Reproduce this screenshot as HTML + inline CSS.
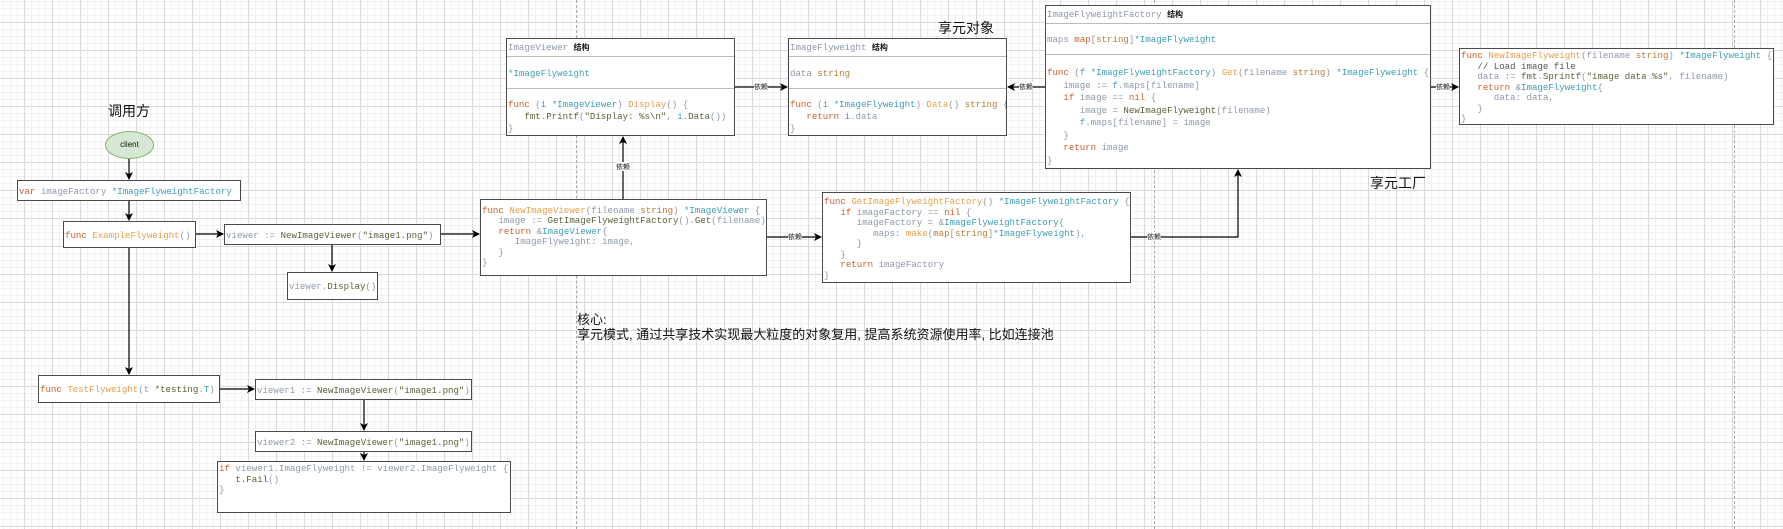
<!DOCTYPE html>
<html><head><meta charset="utf-8"><style>
html,body{margin:0;padding:0}
body{width:1783px;height:529px;position:relative;overflow:hidden;background-color:#fff;
background-image:linear-gradient(to right,#d9d9d9 1px,transparent 1px),linear-gradient(to bottom,#d9d9d9 1px,transparent 1px),linear-gradient(to right,#f1f1f1 1px,transparent 1px),linear-gradient(to bottom,#f1f1f1 1px,transparent 1px);
background-size:28px 28px,28px 28px,7px 7px,7px 7px;background-position:24px 22px,24px 22px,3px 1px,3px 1px;
font-family:"Liberation Sans","Noto Sans CJK SC",sans-serif}
.b{position:absolute;background:#fff;border:1.5px solid #4a4a4a;box-sizing:border-box;overflow:hidden}
pre{margin:0;font-family:"Liberation Mono",monospace;font-size:9.1px;color:#8e98ab;white-space:pre}
.k{color:#c6612c}.f{color:#e5a04c}.t{color:#3d9db4}.s{color:#566237}.w{color:#b87a35}
.sep{position:absolute;left:0;right:0;border-top:1.5px solid #bbb}
.lab{position:absolute;font-size:14px;color:#111;transform:translateX(-50%)}
svg{position:absolute;left:0;top:0}
.dl{position:absolute;top:0;height:529px;border-left:1px dashed #aaa}
</style></head><body>
<div class="dl" style="left:576px"></div>
<div class="dl" style="left:1154px"></div>
<div class="dl" style="left:1734px"></div>

<div class="lab" style="left:129px;top:101px">调用方</div>
<div class="lab" style="left:966px;top:18px">享元对象</div>
<div class="lab" style="left:1398px;top:173px">享元工厂</div>
<div style="position:absolute;left:577px;top:312px;font-size:13px;line-height:15px;color:#111">核心:<br>享元模式, 通过共享技术实现最大粒度的对象复用, 提高系统资源使用率, 比如连接池</div>

<div style="position:absolute;left:105px;top:131px;width:49px;height:28px;border-radius:50%;background:#d5e8d4;border:1px solid #82b366;box-sizing:border-box;font-size:8px;text-align:center;line-height:26px;color:#111">client</div>

<div class="b" style="left:17px;top:180px;width:224px;height:21px"><pre style="padding:5px 1px"><span class="k">var</span> imageFactory <span class="t">*ImageFlyweightFactory</span></pre></div>
<div class="b" style="left:63px;top:221px;width:133px;height:27px"><pre style="padding:8px 1px"><span class="k">func</span> <span class="f">ExampleFlyweight</span>()</pre></div>
<div class="b" style="left:224px;top:224px;width:217px;height:21px"><pre style="padding:5px 1px">viewer := <span class="s">NewImageViewer</span>(<span class="s">"image1.png"</span>)</pre></div>
<div class="b" style="left:287px;top:272px;width:91px;height:28px"><pre style="padding:8px 1px">viewer.<span class="s">Display</span>()</pre></div>
<div class="b" style="left:38px;top:375px;width:182px;height:28px"><pre style="padding:8px 1px"><span class="k">func</span> <span class="f">TestFlyweight</span>(t <span class="s">*testing</span>.<span class="t">T</span>)</pre></div>
<div class="b" style="left:255px;top:379px;width:217px;height:21px"><pre style="padding:5px 1px">viewer1 := <span class="s">NewImageViewer</span>(<span class="s">"image1.png"</span>)</pre></div>
<div class="b" style="left:255px;top:431px;width:217px;height:21px"><pre style="padding:5px 1px">viewer2 := <span class="s">NewImageViewer</span>(<span class="s">"image1.png"</span>)</pre></div>
<div class="b" style="left:217px;top:461px;width:294px;height:52px"><pre style="padding:2px 1px;line-height:10.5px"><span class="k">if</span> viewer1.ImageFlyweight != viewer2.ImageFlyweight {
   <span class="s">t.Fail</span>()
}</pre></div>

<div class="b" style="left:506px;top:38px;width:229px;height:98px">
<pre style="position:absolute;top:3px;left:1px">ImageViewer <b style="color:#111;font-family:'Noto Sans CJK SC',sans-serif;font-size:8px">结构</b></pre>
<div class="sep" style="top:17px"></div>
<pre style="position:absolute;top:29px;left:1px"><span class="t">*ImageFlyweight</span></pre>
<div class="sep" style="top:49px"></div>
<pre style="position:absolute;top:60px;left:1px;line-height:12px"><span class="k">func</span> (<span class="t">i</span> <span class="t">*ImageViewer</span>) <span class="f">Display</span>() {
   <span class="s">fmt</span>.<span class="s">Printf</span>(<span class="s">"Display: %s\n"</span>, <span class="t">i</span>.<span class="s">Data</span>())
}</pre></div>

<div class="b" style="left:788px;top:38px;width:219px;height:98px">
<pre style="position:absolute;top:3px;left:1px">ImageFlyweight <b style="color:#111;font-family:'Noto Sans CJK SC',sans-serif;font-size:8px">结构</b></pre>
<div class="sep" style="top:17px"></div>
<pre style="position:absolute;top:29px;left:1px">data <span class="w">string</span></pre>
<div class="sep" style="top:49px"></div>
<pre style="position:absolute;top:60px;left:1px;line-height:12px"><span class="k">func</span> (<span class="t">i</span> <span class="t">*ImageFlyweight</span>) <span class="f">Data</span>() <span class="w">string</span> {
   <span class="k">return</span> <span class="t">i</span>.data
}</pre></div>

<div class="b" style="left:1045px;top:5px;width:386px;height:164px">
<pre style="position:absolute;top:3px;left:1px">ImageFlyweightFactory <b style="color:#111;font-family:'Noto Sans CJK SC',sans-serif;font-size:8px">结构</b></pre>
<div class="sep" style="top:17px"></div>
<pre style="position:absolute;top:28px;left:1px">maps <span class="k">map</span>[<span class="w">string</span>]<span class="t">*ImageFlyweight</span></pre>
<div class="sep" style="top:48px"></div>
<pre style="position:absolute;top:61px;left:1px;line-height:12.5px"><span class="k">func</span> (<span class="t">f</span> <span class="t">*ImageFlyweightFactory</span>) <span class="f">Get</span>(filename <span class="w">string</span>) <span class="t">*ImageFlyweight</span> {
   image := <span class="t">f</span>.maps[filename]
   <span class="k">if</span> image == <span class="k">nil</span> {
      image = <span class="s">NewImageFlyweight</span>(filename)
      <span class="t">f</span>.maps[filename] = image
   }
   <span class="k">return</span> image
}</pre></div>

<div class="b" style="left:1459px;top:48px;width:315px;height:77px">
<pre style="padding:2px 1px;line-height:10.5px"><span class="k">func</span> <span class="f">NewImageFlyweight</span>(filename <span class="w">string</span>) <span class="t">*ImageFlyweight</span> {
   <span style="color:#555">// Load image file</span>
   data := <span class="s">fmt</span>.<span class="s">Sprintf</span>(<span class="s">"image data %s"</span>, filename)
   <span class="k">return</span> &amp;<span class="t">ImageFlyweight</span>{
      data: data,
   }
}</pre></div>

<div class="b" style="left:480px;top:199px;width:287px;height:77px">
<pre style="padding:6px 1px;line-height:10.4px"><span class="k">func</span> <span class="f">NewImageViewer</span>(filename <span class="w">string</span>) <span class="t">*ImageViewer</span> {
   image := <span class="s">GetImageFlyweightFactory</span>().<span class="s">Get</span>(filename)
   <span class="k">return</span> &amp;<span class="t">ImageViewer</span>{
      ImageFlyweight: image,
   }
}</pre></div>

<div class="b" style="left:822px;top:192px;width:309px;height:91px">
<pre style="padding:4px 1px;line-height:10.5px"><span class="k">func</span> <span class="f">GetImageFlyweightFactory</span>() <span class="t">*ImageFlyweightFactory</span> {
   <span class="k">if</span> imageFactory == <span class="k">nil</span> {
      imageFactory = &amp;<span class="t">ImageFlyweightFactory</span>{
         maps: <span class="f">make</span>(<span class="w">map</span>[<span class="w">string</span>]<span class="t">*ImageFlyweight</span>),
      }
   }
   <span class="k">return</span> imageFactory
}</pre></div>

<svg width="1783" height="529">
<defs><marker id="a" markerWidth="8" markerHeight="8" refX="7" refY="4" orient="auto" markerUnits="userSpaceOnUse"><path d="M0,0 L8,4 L0,8 L2,4 z" fill="#000"/></marker></defs>
<g stroke="#000" stroke-width="1.2" fill="none" marker-end="url(#a)">
<path d="M129,159 V179"/><path d="M129,201 V220"/>
<path d="M196,234 H223"/><path d="M441,234 H479"/><path d="M332,245 V271"/>
<path d="M129,248 V374"/>
<path d="M220,389 H254"/><path d="M364,400 V430"/><path d="M364,452 V460"/>
<path d="M623,199 V137"/>
<path d="M735,87 H787"/><path d="M1045,87 H1008"/><path d="M1431,87 H1458"/>
<path d="M767,237 H821"/><path d="M1131,237 H1238 V170"/>
</g>
<g font-size="7" font-family="Noto Sans CJK SC,sans-serif" text-anchor="middle" fill="#111">
<rect x="616" y="162" width="14" height="9" fill="#fff"/><text x="623" y="169">依赖</text>
<rect x="754" y="82" width="14" height="9" fill="#fff"/><text x="761" y="89">依赖</text>
<rect x="1019" y="82" width="14" height="9" fill="#fff"/><text x="1026" y="89">依赖</text>
<rect x="1436" y="82" width="14" height="9" fill="#fff"/><text x="1443" y="89">依赖</text>
<rect x="788" y="232" width="14" height="9" fill="#fff"/><text x="795" y="239">依赖</text>
<rect x="1147" y="232" width="14" height="9" fill="#fff"/><text x="1154" y="239">依赖</text>
</g>
</svg>
</body></html>
